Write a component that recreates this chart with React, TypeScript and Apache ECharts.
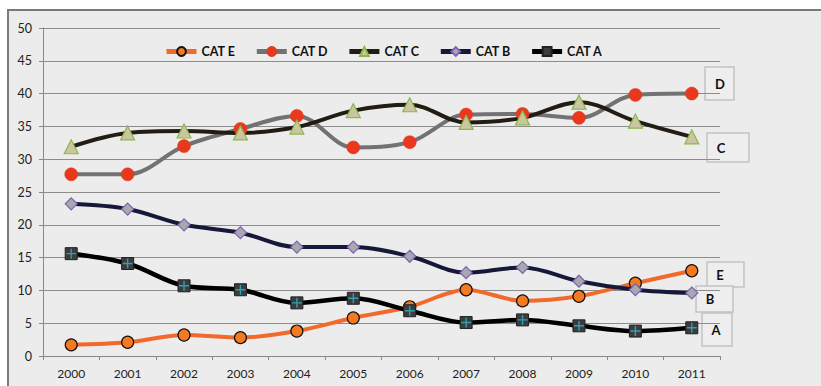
import React, { useEffect, useRef } from "react";
import * as echarts from "echarts";

const years = ["2000", "2001", "2002", "2003", "2004", "2005", "2006", "2007", "2008", "2009", "2010", "2011"];
const catE = [1.7, 2.1, 3.2, 2.8, 3.8, 5.8, 7.5, 10.1, 8.4, 9.1, 11.1, 13.0];
const catD = [27.7, 27.7, 32.0, 34.6, 36.6, 31.8, 32.6, 36.8, 36.9, 36.3, 39.8, 40.0];
const catC = [31.9, 34.0, 34.3, 34.0, 34.9, 37.4, 38.3, 35.6, 36.3, 38.7, 35.8, 33.4];
const catB = [23.2, 22.4, 20.0, 18.8, 16.6, 16.6, 15.2, 12.7, 13.5, 11.4, 10.1, 9.6];
const catA = [15.6, 14.1, 10.7, 10.1, 8.1, 8.8, 6.9, 5.1, 5.5, 4.6, 3.8, 4.3];
const seriesNames = ["CAT E", "CAT D", "CAT C", "CAT B", "CAT A"];
const endLabels = ["D", "C", "E", "B", "A"];

const FONT = "Lato";
const PLUS = "path://M4.3,0H5.7V4.3H10V5.7H5.7V10H4.3V5.7H0V4.3H4.3Z";

function labelBox(text: string, x: number, y: number, w: number, h: number, tx: number) {
  return {
    type: "group",
    children: [
      { type: "rect", shape: { x, y, width: w, height: h }, style: { fill: "#eeeeee", stroke: "#c2c2c2", lineWidth: 1.5 } },
      {
        type: "text",
        x: tx,
        y: y + h / 2,
        style: { text, font: `bold 13px ${FONT}`, fill: "#111", textAlign: "center", textVerticalAlign: "middle" },
      },
    ],
  };
}

export default function App() {
  const ref = useRef<HTMLDivElement>(null);
  useEffect(() => {
    if (!ref.current) return;
    const chart = echarts.init(ref.current, null, { renderer: "svg" });
    chart.setOption({
      animation: false,
      backgroundColor: "#ececec",
      textStyle: { fontFamily: FONT },
      grid: { left: 43, right: 101, top: 28, bottom: 30 },
      legend: {
        data: seriesNames,
        left: 159,
        top: 40,
        itemWidth: 30,
        itemHeight: 11,
        itemGap: 19,
        lineStyle: { width: 5 },
        textStyle: { fontFamily: FONT, fontWeight: "bold", fontSize: 12.5, color: "#111" },
      },
      xAxis: {
        type: "category",
        data: years,
        boundaryGap: true,
        axisLine: { lineStyle: { color: "#888", width: 1 } },
        axisTick: { show: true, length: 4, lineStyle: { color: "#888" } },
        axisLabel: { color: "#222", fontSize: 12, margin: 11, fontFamily: FONT },
      },
      yAxis: {
        type: "value",
        min: 0,
        max: 50,
        interval: 5,
        axisLine: { show: true, lineStyle: { color: "#888", width: 1 } },
        axisTick: { show: true, length: 4, lineStyle: { color: "#888" } },
        axisLabel: { color: "#222", fontSize: 12.5, margin: 11, fontFamily: FONT },
        splitLine: { lineStyle: { color: "#8c8c8c", width: 1 } },
      },
      graphic: [
        { type: "rect", shape: { x: 0, y: 0, width: 821, height: 9 }, style: { fill: "#ffffff" }, silent: true },
        { type: "rect", shape: { x: 0, y: 0, width: 7, height: 386 }, style: { fill: "#ffffff" }, silent: true },
        { type: "line", shape: { x1: 7, y1: 10, x2: 821, y2: 10 }, style: { stroke: "#7a7a7a", lineWidth: 2 } },
        { type: "line", shape: { x1: 8, y1: 9, x2: 8, y2: 386 }, style: { stroke: "#7a7a7a", lineWidth: 2 } },
        labelBox(endLabels[0], 705, 67, 29, 33, 720),
        labelBox(endLabels[1], 707, 133, 42, 29, 721),
        labelBox(endLabels[2], 707, 262, 37, 25, 720),
        labelBox(endLabels[3], 696, 286, 37, 26, 710),
        labelBox(endLabels[4], 702, 313, 30, 33, 716),
      ],
      series: [
        {
          name: seriesNames[0],
          type: "line",
          data: catE,
          smooth: 0.3,
          symbol: "circle",
          symbolSize: 12,
          lineStyle: { color: "#f26a2b", width: 4 },
          itemStyle: { color: "#f47a22", borderColor: "#111", borderWidth: 1.2 },
        },
        {
          name: seriesNames[1],
          type: "line",
          data: catD,
          smooth: 0.35,
          symbol: "circle",
          symbolSize: 13,
          lineStyle: { color: "#727272", width: 4 },
          itemStyle: { color: "#e8391f", borderColor: "#e03a20", borderWidth: 0.5 },
        },
        {
          name: seriesNames[2],
          type: "line",
          data: catC,
          smooth: 0.35,
          symbol: "triangle",
          symbolSize: 14,
          lineStyle: { color: "#221c12", width: 4 },
          itemStyle: { color: "#cbc6a1", borderColor: "#8bb84a", borderWidth: 1.2 },
        },
        {
          name: seriesNames[3],
          type: "line",
          data: catB,
          smooth: 0.35,
          symbol: "diamond",
          symbolSize: 12,
          lineStyle: { color: "#151838", width: 4 },
          itemStyle: { color: "#a9a9ad", borderColor: "#7d62b4", borderWidth: 1.2 },
        },
        {
          name: seriesNames[4],
          type: "line",
          data: catA,
          smooth: 0.35,
          symbol: "rect",
          symbolSize: 12,
          lineStyle: { color: "#000000", width: 4.5 },
          itemStyle: { color: "#3c3c3c", borderColor: "#222", borderWidth: 1 },
        },
        {
          name: "CAT A plus",
          type: "scatter",
          data: catA,
          symbol: PLUS,
          symbolSize: 10,
          silent: true,
          itemStyle: { color: "#2ab8d2" },
          z: 5,
        },
      ],
    });
    return () => chart.dispose();
  }, []);
  return <div ref={ref} style={{ position: "absolute", left: 0, top: 0, width: 821, height: 386 }} />;
}
